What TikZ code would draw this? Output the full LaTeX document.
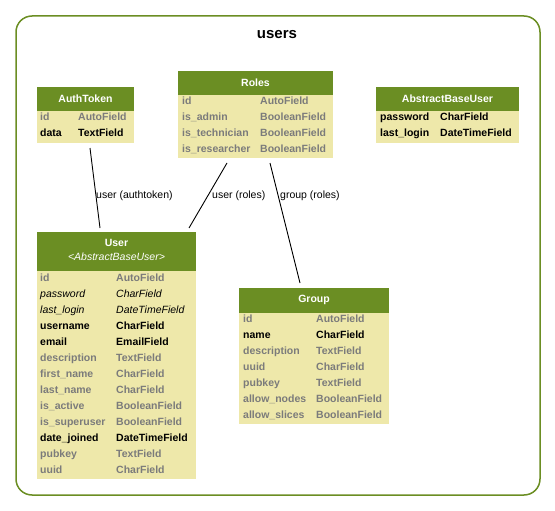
\documentclass[tikz,border=0pt]{standalone}
\usepackage{fontspec}
\setmainfont{Liberation Sans}
\definecolor{hdrgreen}{HTML}{6B8E23}
\definecolor{bodyyellow}{HTML}{EEE8AA}
\definecolor{fldgrey}{HTML}{7B7B7B}
\tikzset{
	fld/.style={anchor=base west, inner sep=0pt, font=\fontsize{10.5}{12}\selectfont\bfseries},
	nul/.style={fld, text=fldgrey},
	inh/.style={anchor=base west, inner sep=0pt, font=\fontsize{10.5}{12}\selectfont\itshape},
	ttl/.style={inner sep=0pt, text=white, font=\fontsize{10.5}{12}\selectfont\bfseries},
	lbl/.style={anchor=base west, inner sep=0pt, font=\fontsize{10.5}{12}\selectfont},
	rel/.style={draw=black, line width=.9pt},
}
\begin{document}
\begin{tikzpicture}[x=1pt, y=-1pt]
	\useasboundingbox (0,0) rectangle (555,511);
	\draw[hdrgreen, line width=1.5pt, rounded corners=16pt] (16,16) rectangle (540,495);
	\node[font=\fontsize{15}{17}\selectfont\bfseries] (title) at (277,35) {users};
	% AuthToken
	\fill[hdrgreen]   (37,87)  rectangle (134,111);
	\fill[bodyyellow] (37,111) rectangle (134,143);
	\node[ttl] (auth)       at (85.5,99) {AuthToken};
	\node[nul] (auth-id)    at (40,121)  {id};
	\node[nul] (auth-idt)   at (78,121)  {AutoField};
	\node[fld] (auth-data)  at (40,137)  {data};
	\node[fld] (auth-datat) at (78,137)  {TextField};
	% Roles
	\fill[hdrgreen]   (178,71) rectangle (333,95);
	\fill[bodyyellow] (178,95) rectangle (333,158);
	\node[ttl] (roles)       at (255.5,83) {Roles};
	\node[nul] (roles-id)    at (182,105)  {id};
	\node[nul] (roles-idt)   at (260,105)  {AutoField};
	\node[nul] (roles-adm)   at (182,121)  {is\_admin};
	\node[nul] (roles-admt)  at (260,121)  {BooleanField};
	\node[nul] (roles-tech)  at (182,137)  {is\_technician};
	\node[nul] (roles-techt) at (260,137)  {BooleanField};
	\node[nul] (roles-res)   at (182,153)  {is\_researcher};
	\node[nul] (roles-rest)  at (260,153)  {BooleanField};
	% AbstractBaseUser
	\fill[hdrgreen]   (376,87)  rectangle (519,111);
	\fill[bodyyellow] (376,111) rectangle (519,143);
	\node[ttl] (abu)     at (447.5,99) {AbstractBaseUser};
	\node[fld] (abu-pw)  at (380,121)  {password};
	\node[fld] (abu-pwt) at (440,121)  {CharField};
	\node[fld] (abu-ll)  at (380,137)  {last\_login};
	\node[fld] (abu-llt) at (440,137)  {DateTimeField};
	% User
	\fill[hdrgreen]   (37,232) rectangle (196,271);
	\fill[bodyyellow] (37,271) rectangle (196,479);
	\node[ttl] (user)     at (116.5,243) {User};
	\node[ttl, font=\fontsize{10.5}{12}\selectfont\itshape] (user-base) at (116.5,257) {<AbstractBaseUser>};
	\node[nul] (user-id)    at (40,281)  {id};
	\node[nul] (user-idt)   at (116,281) {AutoField};
	\node[inh] (user-pw)    at (40,297)  {password};
	\node[inh] (user-pwt)   at (116,297) {CharField};
	\node[inh] (user-ll)    at (40,313)  {last\_login};
	\node[inh] (user-llt)   at (116,313) {DateTimeField};
	\node[fld] (user-un)    at (40,329)  {username};
	\node[fld] (user-unt)   at (116,329) {CharField};
	\node[fld] (user-em)    at (40,345)  {email};
	\node[fld] (user-emt)   at (116,345) {EmailField};
	\node[nul] (user-desc)  at (40,361)  {description};
	\node[nul] (user-desct) at (116,361) {TextField};
	\node[nul] (user-fn)    at (40,377)  {first\_name};
	\node[nul] (user-fnt)   at (116,377) {CharField};
	\node[nul] (user-ln)    at (40,393)  {last\_name};
	\node[nul] (user-lnt)   at (116,393) {CharField};
	\node[nul] (user-act)   at (40,409)  {is\_active};
	\node[nul] (user-actt)  at (116,409) {BooleanField};
	\node[nul] (user-su)    at (40,425)  {is\_superuser};
	\node[nul] (user-sut)   at (116,425) {BooleanField};
	\node[fld] (user-dj)    at (40,441)  {date\_joined};
	\node[fld] (user-djt)   at (116,441) {DateTimeField};
	\node[nul] (user-pk)    at (40,457)  {pubkey};
	\node[nul] (user-pkt)   at (116,457) {TextField};
	\node[nul] (user-uuid)  at (40,473)  {uuid};
	\node[nul] (user-uuidt) at (116,473) {CharField};
	% Group
	\fill[hdrgreen]   (239,288) rectangle (389,313);
	\fill[bodyyellow] (239,313) rectangle (389,424);
	\node[ttl] (group)       at (314,300) {Group};
	\node[nul] (group-id)    at (243,322) {id};
	\node[nul] (group-idt)   at (316,322) {AutoField};
	\node[fld] (group-nm)    at (243,338) {name};
	\node[fld] (group-nmt)   at (316,338) {CharField};
	\node[nul] (group-desc)  at (243,354) {description};
	\node[nul] (group-desct) at (316,354) {TextField};
	\node[nul] (group-uuid)  at (243,370) {uuid};
	\node[nul] (group-uuidt) at (316,370) {CharField};
	\node[nul] (group-pk)    at (243,386) {pubkey};
	\node[nul] (group-pkt)   at (316,386) {TextField};
	\node[nul] (group-an)    at (243,402) {allow\_nodes};
	\node[nul] (group-ant)   at (316,402) {BooleanField};
	\node[nul] (group-as)    at (243,418) {allow\_slices};
	\node[nul] (group-ast)   at (316,418) {BooleanField};
	% relations
	\coordinate (auth-end)  at (90,148);
	\coordinate (user-a)    at (100,228);
	\coordinate (roles-u)   at (227,163);
	\coordinate (user-r)    at (189,228);
	\coordinate (roles-g)   at (270,163);
	\coordinate (group-r)   at (300,283);
	\draw[rel] (auth-end) -- (user-a);
	\draw[rel] (roles-u) -- (user-r);
	\draw[rel] (roles-g) -- (group-r);
	\node[lbl] (lbl-auth)  at (96,198)  {user (authtoken)};
	\node[lbl] (lbl-roles) at (212,198) {user (roles)};
	\node[lbl] (lbl-group) at (280,198) {group (roles)};
\end{tikzpicture}
\end{document}
